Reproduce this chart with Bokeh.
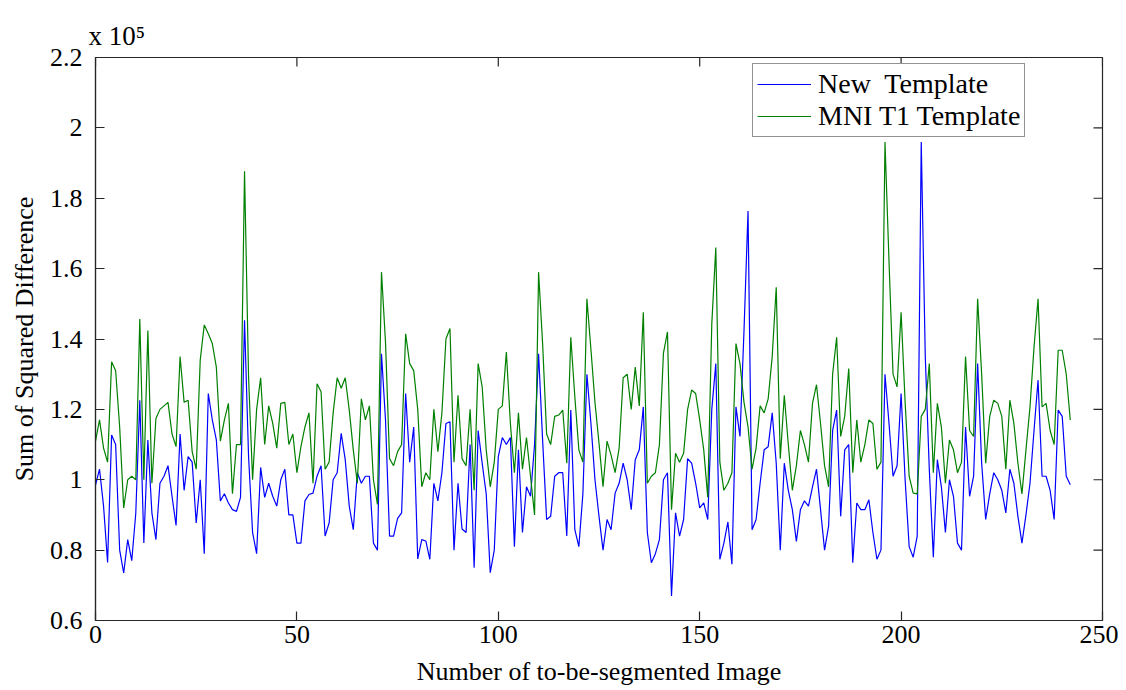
import math
from bokeh.plotting import figure
from bokeh.models import (Range1d, FixedTicker, CustomJSTickFormatter,
                          Legend, LegendItem, ColumnDataSource)
from bokeh.embed import file_html
from bokeh.resources import INLINE

# ---- data (values in units of 10^5) ----
image_index = list(range(243))

new_template = [
    0.985, 1.03, 0.925, 0.765, 1.127, 1.10, 0.80, 0.735, 0.83, 0.77,
    0.905, 1.226, 0.82, 1.113, 0.906, 0.83, 0.99, 1.01, 1.04, 0.953,
    0.87, 1.13, 0.97, 1.066, 1.05, 0.877, 1.00, 0.79, 1.245, 1.17,
    1.113, 0.94, 0.96, 0.934, 0.915, 0.91, 0.95, 1.453, 1.066, 0.85,
    0.79, 1.035, 0.95, 0.99, 0.953, 0.925, 1.00, 1.03, 0.90, 0.90,
    0.82, 0.82, 0.94, 0.958, 0.962, 1.01, 1.04, 0.84, 0.877, 1.00,
    1.02, 1.132, 1.057, 0.925, 0.858, 1.02, 0.99, 1.01, 1.01, 0.82,
    0.80, 1.358, 1.17, 0.84, 0.84, 0.89, 0.906, 1.245, 1.05, 1.15,
    0.775, 0.83, 0.826, 0.774, 0.99, 0.94, 1.02, 1.16, 1.165, 0.80,
    0.99, 0.86, 0.85, 1.10, 0.75, 1.14, 1.047, 0.96, 0.736, 0.80,
    1.066, 1.12, 1.10, 1.12, 0.81, 1.085, 0.85, 0.98, 0.953, 1.10,
    1.358, 1.113, 0.887, 0.896, 1.01, 1.02, 1.02, 0.84, 1.198, 0.858,
    0.81, 0.96, 1.30, 1.16, 1.00, 0.896, 0.80, 0.887, 0.858, 0.962,
    0.99, 1.047, 1.00, 0.915, 1.057, 1.085, 1.207, 0.85, 0.764, 0.79,
    0.83, 1.00, 1.02, 0.67, 0.906, 0.84, 0.887, 1.06, 1.047, 0.99,
    0.92, 0.934, 0.887, 1.20, 1.33, 0.774, 0.82, 0.88, 0.76, 1.207,
    1.123, 1.424, 1.764, 0.858, 0.887, 0.99, 1.085, 1.094, 1.19, 1.047,
    0.80, 1.047, 0.97, 0.915, 0.825, 0.915, 0.94, 0.925, 0.98, 1.03,
    0.915, 0.80, 0.868, 1.14, 1.198, 0.896, 1.085, 1.10, 0.764, 0.934,
    0.915, 0.915, 0.943, 0.85, 0.774, 0.80, 1.30, 1.16, 1.01, 1.04,
    1.245, 1.00, 0.81, 0.78, 0.84, 1.96, 1.35, 1.03, 0.78, 1.057,
    0.98, 0.85, 1.00, 0.953, 0.82, 0.80, 1.15, 0.953, 1.01, 1.33,
    1.047, 0.887, 0.96, 1.02, 1.00, 0.97, 0.906, 1.03, 0.99, 0.896,
    0.82, 0.90, 0.99, 1.14, 1.283, 1.01, 1.01, 0.97, 0.887, 1.198,
    1.18, 1.01, 0.986,
]

mni_t1_template = [
    1.11, 1.17, 1.09, 1.05, 1.335, 1.31, 1.15, 0.92, 1.00, 1.01,
    1.00, 1.457, 1.00, 1.424, 0.99, 1.174, 1.20, 1.21, 1.22, 1.13,
    1.094, 1.35, 1.22, 1.226, 1.08, 1.03, 1.34, 1.44, 1.415, 1.387,
    1.32, 1.11, 1.17, 1.217, 0.96, 1.10, 1.10, 1.877, 1.292, 1.00,
    1.20, 1.29, 1.10, 1.21, 1.16, 1.09, 1.217, 1.22, 1.10, 1.13,
    1.02, 1.094, 1.15, 1.19, 0.99, 1.273, 1.25, 1.03, 1.05, 1.19,
    1.29, 1.26, 1.29, 1.198, 1.085, 0.99, 1.23, 1.17, 1.21, 1.00,
    0.93, 1.59, 1.39, 1.06, 1.04, 1.08, 1.10, 1.415, 1.33, 1.31,
    1.20, 0.98, 1.02, 1.00, 1.20, 1.08, 1.19, 1.40, 1.43, 1.05,
    1.24, 1.06, 1.04, 1.20, 0.97, 1.33, 1.264, 1.085, 0.98, 1.05,
    1.20, 1.21, 1.363, 1.16, 1.02, 1.19, 1.03, 1.12, 1.01, 0.90,
    1.59, 1.387, 1.13, 1.10, 1.18, 1.184, 1.198, 1.047, 1.405, 1.236,
    1.085, 1.05, 1.514, 1.37, 1.22, 1.104, 0.98, 1.11, 1.07, 1.02,
    1.09, 1.29, 1.30, 1.20, 1.32, 1.21, 1.476, 0.99, 1.01, 1.02,
    1.10, 1.36, 1.42, 0.915, 1.075, 1.05, 1.075, 1.20, 1.255, 1.245,
    1.17, 1.085, 0.95, 1.443, 1.66, 1.05, 0.97, 0.99, 1.02, 1.387,
    1.33, 1.22, 1.15, 1.03, 1.09, 1.21, 1.19, 1.23, 1.35, 1.547,
    1.06, 1.24, 1.10, 0.97, 1.04, 1.14, 1.10, 1.05, 1.217, 1.27,
    1.16, 1.04, 0.98, 1.30, 1.405, 1.123, 1.18, 1.316, 1.02, 1.17,
    1.05, 1.10, 1.17, 1.16, 1.03, 1.05, 1.96, 1.62, 1.30, 1.264,
    1.476, 1.22, 1.01, 0.962, 0.96, 1.18, 1.20, 1.33, 1.02, 1.217,
    1.15, 0.99, 1.113, 1.085, 1.02, 1.05, 1.35, 1.14, 1.123, 1.514,
    1.30, 1.047, 1.18, 1.226, 1.217, 1.18, 1.03, 1.226, 1.16, 1.047,
    0.96, 1.085, 1.207, 1.377, 1.514, 1.207, 1.217, 1.14, 1.10, 1.368,
    1.368, 1.30, 1.17,
]

series_names = ["New  Template", "MNI T1 Template"]
series_colors = ["#0000ff", "#008000"]
x_ticks = [0, 50, 100, 150, 200, 250]
y_ticks = [0.6, 0.8, 1.0, 1.2, 1.4, 1.6, 1.8, 2.0, 2.2]
x_label = "Number of to-be-segmented Image"
y_label = "Sum of Squared Difference"
scale_note = "x 10\u2075"

FONT = "Liberation Serif"
AXIS_COLOR = "#262626"
TICK_LEN = 9

source = ColumnDataSource(data=dict(x=image_index, new=new_template, mni=mni_t1_template))

p = figure(width=1118, height=688, output_backend="svg", toolbar_location=None,
           x_range=Range1d(x_ticks[0], x_ticks[-1]), y_range=Range1d(y_ticks[0], y_ticks[-1]),
           min_border_left=95, min_border_right=16, min_border_top=57, min_border_bottom=67)
p.background_fill_color = "white"
p.border_fill_color = "white"
p.outline_line_color = AXIS_COLOR
p.outline_line_width = 1.2
p.xgrid.visible = False
p.ygrid.visible = False

# scale note shown as the title, left aligned over the y axis
p.title.text = scale_note
p.title.align = "left"
p.title.offset = -7
p.title.standoff = 13
p.title.text_font = FONT
p.title.text_font_size = "27px"
p.title.text_font_style = "normal"
p.title.text_color = "black"

r_new = p.line("x", "new", source=source, line_color=series_colors[0], line_width=1.2)
r_mni = p.line("x", "mni", source=source, line_color=series_colors[1], line_width=1.2)

def style_axis(ax):
    ax.axis_line_color = AXIS_COLOR
    ax.axis_line_width = 1.2
    ax.major_tick_line_color = AXIS_COLOR
    ax.major_tick_line_width = 1.2
    ax.major_tick_in = TICK_LEN
    ax.major_tick_out = 0
    ax.minor_tick_in = 0
    ax.minor_tick_out = 0
    ax.major_label_text_font = FONT
    ax.major_label_text_font_size = "26px"
    ax.major_label_text_color = "black"
    ax.axis_label_text_font = FONT
    ax.axis_label_text_font_size = "26px"
    ax.axis_label_text_font_style = "normal"
    ax.axis_label_text_color = "black"

xa = p.xaxis[0]
xa.ticker = FixedTicker(ticks=x_ticks)
style_axis(xa)
xa.major_label_standoff = 5
xa.axis_label = x_label
xa.axis_label_standoff = 11

ya = p.yaxis[0]
ya.ticker = FixedTicker(ticks=y_ticks)
ya.formatter = CustomJSTickFormatter(code="return String(Math.round(tick*10)/10);")
style_axis(ya)
ya.major_label_standoff = 13
ya.axis_label = y_label
ya.axis_label_standoff = 8

# inward ticks on the top and right edges of the box (MATLAB "box on")
p.ray(x=x_ticks, y=[y_ticks[-1]] * len(x_ticks), length=TICK_LEN, length_units="screen",
      angle=-math.pi / 2, line_color=AXIS_COLOR, line_width=1.2)
p.ray(x=[x_ticks[-1]] * len(y_ticks), y=y_ticks, length=TICK_LEN, length_units="screen",
      angle=math.pi, line_color=AXIS_COLOR, line_width=1.2)

legend = Legend(items=[LegendItem(label=series_names[0], renderers=[r_new]),
                       LegendItem(label=series_names[1], renderers=[r_mni])],
                location=(657, 483))
legend.label_text_font = FONT
legend.label_text_font_size = "28px"
legend.label_text_color = "black"
legend.border_line_color = AXIS_COLOR
legend.border_line_width = 1.2
legend.background_fill_color = "white"
legend.background_fill_alpha = 1.0
legend.padding = 4
legend.margin = 0
legend.spacing = 0
legend.label_height = 32
legend.glyph_height = 32
legend.glyph_width = 54
legend.label_standoff = 7
p.add_layout(legend, "center")

open("out.html", "w").write(file_html(p, INLINE))
